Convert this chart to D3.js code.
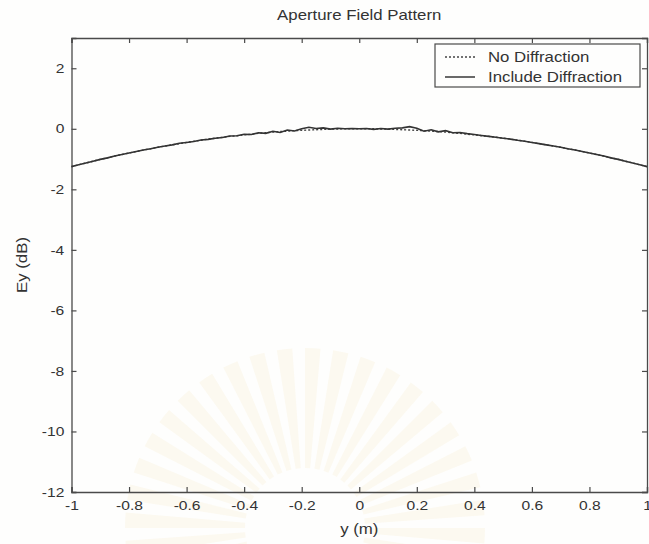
<!DOCTYPE html>
<html>
<head>
<meta charset="utf-8">
<script src="https://cdn.jsdelivr.net/npm/d3@7"></script>
<style>
  html, body { margin: 0; padding: 0; background: #fefefd; }
  svg { display: block; font-family: "Liberation Sans", Arial, Helvetica, sans-serif; }
</style>
</head>
<body>
<svg id="chart" width="649" height="544"></svg>
<script>
// Aperture position (m)
const positions = [
  -1.000, -0.975, -0.950, -0.925, -0.900, -0.875, -0.850, -0.825, -0.800, -0.775,
  -0.750, -0.725, -0.700, -0.675, -0.650, -0.625, -0.600, -0.575, -0.550, -0.525,
  -0.500, -0.475, -0.450, -0.425, -0.400, -0.375, -0.350, -0.325, -0.300, -0.275,
  -0.250, -0.225, -0.200, -0.175, -0.150, -0.125, -0.100, -0.075, -0.050, -0.025,
   0.000,  0.025,  0.050,  0.075,  0.100,  0.125,  0.150,  0.175,  0.200,  0.225,
   0.250,  0.275,  0.300,  0.325,  0.350,  0.375,  0.400,  0.425,  0.450,  0.475,
   0.500,  0.525,  0.550,  0.575,  0.600,  0.625,  0.650,  0.675,  0.700,  0.725,
   0.750,  0.775,  0.800,  0.825,  0.850,  0.875,  0.900,  0.925,  0.950,  0.975,
   1.000
];

// Ey (dB), geometric optics only
const noDiffraction = [
  -1.25, -1.19, -1.13, -1.07, -1.01, -0.96, -0.90, -0.85, -0.80, -0.75,
  -0.70, -0.66, -0.61, -0.57, -0.53, -0.49, -0.45, -0.41, -0.38, -0.34,
  -0.31, -0.28, -0.25, -0.23, -0.20, -0.18, -0.15, -0.13, -0.11, -0.09,
  -0.08, -0.06, -0.05, -0.04, -0.03, -0.02, -0.01, -0.01,  0.00,  0.00,
   0.00,  0.00,  0.00, -0.01, -0.01, -0.02, -0.03, -0.04, -0.05, -0.06,
  -0.08, -0.09, -0.11, -0.13, -0.15, -0.18, -0.20, -0.23, -0.25, -0.28,
  -0.31, -0.34, -0.38, -0.41, -0.45, -0.49, -0.53, -0.57, -0.61, -0.66,
  -0.70, -0.75, -0.80, -0.85, -0.90, -0.96, -1.01, -1.07, -1.13, -1.19,
  -1.25
];

// Ey (dB), with edge diffraction
const includeDiffraction = [
  -1.25, -1.19, -1.13, -1.07, -1.01, -0.96, -0.90, -0.85, -0.80, -0.75,
  -0.70, -0.66, -0.61, -0.57, -0.53, -0.48, -0.45, -0.42, -0.37, -0.35,
  -0.31, -0.29, -0.24, -0.23, -0.18, -0.19, -0.13, -0.15, -0.08, -0.12,
  -0.04, -0.07,  0.00,  0.05,  0.01,  0.03, -0.01,  0.02,  0.00,  0.01,
   0.00,  0.01, -0.02,  0.01, -0.01,  0.02,  0.03,  0.07,  0.02, -0.08,
  -0.03, -0.10, -0.06, -0.13, -0.12, -0.16, -0.19, -0.22, -0.25, -0.28,
  -0.31, -0.34, -0.38, -0.41, -0.45, -0.49, -0.53, -0.57, -0.61, -0.66,
  -0.70, -0.75, -0.80, -0.85, -0.90, -0.96, -1.01, -1.07, -1.13, -1.19,
  -1.25
];

const xTicks = [-1, -0.8, -0.6, -0.4, -0.2, 0, 0.2, 0.4, 0.6, 0.8, 1];
const yTicks = [2, 0, -2, -4, -6, -8, -10, -12];
const seriesNames = ["No Diffraction", "Include Diffraction"];

const svg = d3.select("#chart");
const margin = { left: 71.5, right: 2, top: 38, bottom: 52 };
const W = 649, H = 544;

const x = d3.scaleLinear().domain([-1, 1]).range([margin.left, W - margin.right]);
const y = d3.scaleLinear().domain([-12, 3]).range([H - margin.bottom, margin.top]);

// faint seal printed behind the lower half of the page
const seal = svg.append("g").attr("transform", "translate(305,528)");
const rayCount = 40;
const rayArc = d3.arc().innerRadius(60).outerRadius(180);
for (let i = 0; i < rayCount; i++) {
  const a0 = (i / rayCount) * 2 * Math.PI;
  seal.append("path")
    .attr("d", rayArc({ startAngle: a0, endAngle: a0 + 0.55 * 2 * Math.PI / rayCount }))
    .attr("fill", "#efdc98")
    .attr("opacity", 0.13);
}

const axisColor = "#4a4a4a";
const tickLen = 5;
const textColor = "#333";
// the lettering on this plot runs a little wide
const widen = "scale(1.2,1)";

// axes, ticks pointing into the plot on all four sides
const gBottom = svg.append("g").attr("transform", `translate(0,${y(-12)})`)
  .call(d3.axisBottom(x).tickValues(xTicks).tickSize(-tickLen).tickPadding(9)
    .tickFormat(d => String(d)));
const gTop = svg.append("g").attr("transform", `translate(0,${y(3)})`)
  .call(d3.axisTop(x).tickValues(xTicks).tickSize(-tickLen).tickFormat(""));
const gLeft = svg.append("g").attr("transform", `translate(${x(-1)},0)`)
  .call(d3.axisLeft(y).tickValues(yTicks).tickSize(-tickLen).tickPadding(6)
    .tickFormat(d => String(d)));
const gRight = svg.append("g").attr("transform", `translate(${x(1)},0)`)
  .call(d3.axisRight(y).tickValues(yTicks).tickSize(-tickLen).tickFormat(""));

[gBottom, gTop, gLeft, gRight].forEach(g => {
  g.select(".domain").attr("stroke", axisColor).attr("stroke-width", 1.3);
  g.selectAll(".tick line").attr("stroke", axisColor).attr("stroke-width", 1.2);
  g.selectAll(".tick text").attr("fill", textColor).style("font-size", "13px")
    .attr("transform", widen);
});
gBottom.selectAll(".tick text").attr("dy", "0.71em");

// curves
const pts = (vals) => positions.map((p, i) => [p, vals[i]]);
const line = d3.line().x(d => x(d[0])).y(d => y(d[1]));

svg.append("path").datum(pts(noDiffraction))
  .attr("d", line).attr("fill", "none")
  .attr("stroke", "#444").attr("stroke-width", 1.4).attr("stroke-dasharray", "2,2");
svg.append("path").datum(pts(includeDiffraction))
  .attr("d", line).attr("fill", "none")
  .attr("stroke", "#333").attr("stroke-width", 1.6);

// legend
const lg = svg.append("g");
lg.append("rect").attr("x", 435).attr("y", 44).attr("width", 205).attr("height", 43)
  .attr("fill", "#fefefd").attr("stroke", axisColor).attr("stroke-width", 1.2);
seriesNames.forEach((name, i) => {
  const cy = 57 + i * 20;
  lg.append("line").attr("x1", 445).attr("x2", 475).attr("y1", cy).attr("y2", cy)
    .attr("stroke", "#444").attr("stroke-width", i === 0 ? 1.4 : 1.6)
    .attr("stroke-dasharray", i === 0 ? "2,2" : null);
  lg.append("text")
    .attr("transform", `translate(488,${cy}) scale(1.12,1)`)
    .attr("dy", "0.35em")
    .attr("fill", textColor).style("font-size", "15px").text(name);
});

// title and axis labels
const midX = (x(-1) + x(1)) / 2;
svg.append("text").attr("transform", `translate(${midX},20) ${widen}`)
  .attr("text-anchor", "middle").attr("fill", textColor).style("font-size", "14px")
  .text("Aperture Field Pattern");
svg.append("text").attr("transform", `translate(${midX},534) ${widen}`)
  .attr("text-anchor", "middle").attr("fill", textColor).style("font-size", "14px")
  .text("y (m)");
svg.append("text")
  .attr("transform", `translate(27,${(y(3) + y(-12)) / 2}) rotate(-90) ${widen}`)
  .attr("text-anchor", "middle").attr("fill", textColor).style("font-size", "14px")
  .text("Ey (dB)");
</script>
</body>
</html>
